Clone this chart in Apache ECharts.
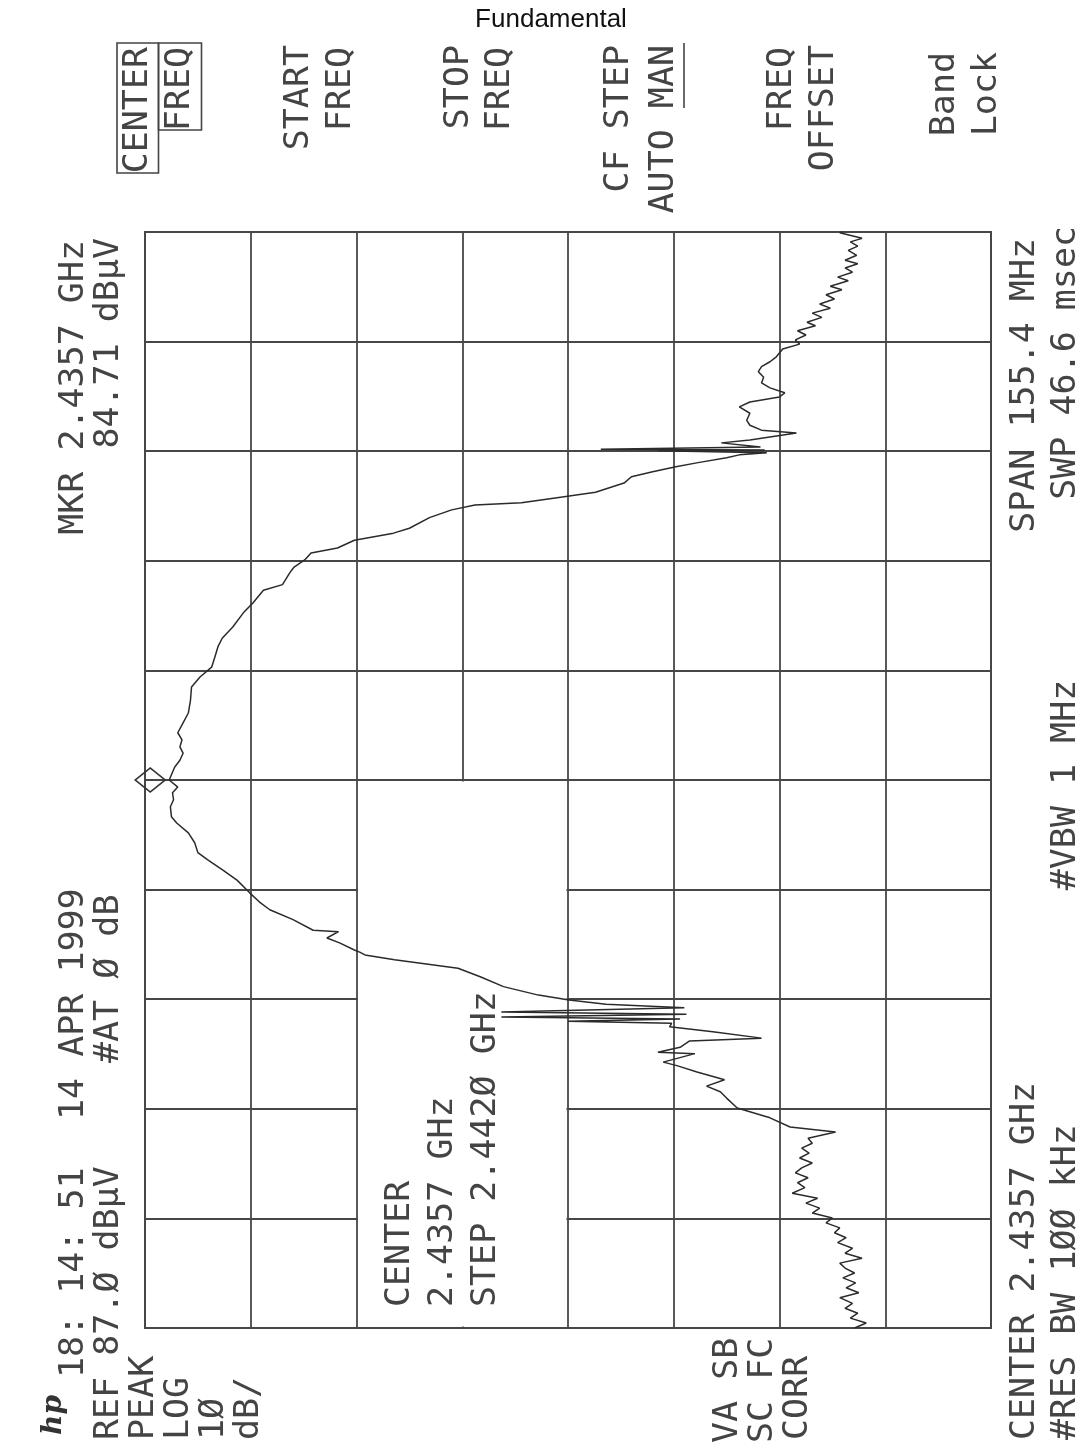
<!DOCTYPE html>
<html>
<head>
<meta charset="utf-8">
<script src="https://cdn.jsdelivr.net/npm/echarts@6/dist/echarts.min.js"></script>
<style>
html,body{margin:0;padding:0;background:#fff;}
#c{width:1090px;height:1447px;}
</style>
</head>
<body>
<div id="c"></div>
<script>
// ---------------- data ----------------
const REF_LEVEL = 87.0;      // dBµV, top of screen
const DB_PER_DIV = 10;
const AMP_DIVS = 8;
const CENTER_MHZ = 2435.7;
const SPAN_MHZ = 155.4;
const FREQ_DIVS = 10;

// trace: frequency (MHz)
const traceFreqMHz = [
  // lower noise floor
  2358.0, 2358.7, 2359.4, 2360.1, 2360.8, 2361.5, 2362.3, 2363.0, 2363.7, 2364.4,
  2365.1, 2365.8, 2366.5, 2367.2, 2367.9, 2368.6, 2369.3, 2370.1, 2370.8, 2371.5,
  2372.2, 2372.9, 2373.6, 2374.3, 2375.0, 2375.7, 2376.4, 2377.1, 2377.9, 2378.6,
  2379.3, 2380.0, 2380.7, 2381.4, 2382.1, 2382.8, 2383.5, 2384.2, 2384.9, 2385.8,
  2386.5, 2387.8,
  // lower skirt, main lobe, upper skirt
  2389.2, 2390.6, 2391.5, 2392.3, 2393.2, 2394.3, 2395.2, 2395.7, 2396.9, 2397.1,
  2397.8, 2398.7, 2399.1, 2400.0, 2400.7, 2401.2, 2401.5, 2401.8, 2402.1, 2402.5,
  2402.8, 2403.4, 2403.9, 2404.5, 2405.2, 2406.4, 2407.8, 2409.0, 2410.2, 2410.9,
  2411.3, 2411.6, 2412.6, 2413.3, 2414.2, 2414.4, 2415.9, 2417.3, 2418.3, 2419.7,
  2421.5, 2422.9, 2424.4, 2425.4, 2426.8, 2428.2, 2429.6, 2430.5, 2431.9, 2432.9,
  2433.9, 2434.7, 2435.7, 2437.5, 2438.5, 2439.5, 2440.4, 2441.4, 2442.4, 2443.8,
  2445.2, 2447.0, 2448.9, 2450.3, 2451.7, 2453.1, 2454.6, 2455.8, 2457.4, 2459.4,
  2460.8, 2462.6, 2463.4, 2465.1, 2465.9, 2466.9, 2467.9, 2468.6, 2469.7, 2470.7,
  2471.4, 2472.9, 2474.0, 2474.7, 2475.0, 2475.8, 2476.5, 2477.8, 2478.7, 2479.4,
  2480.1, 2480.7, 2481.4, 2481.8, 2482.1, 2482.4, 2482.5, 2482.6, 2482.9, 2483.5,
  2483.9, 2484.9, 2485.3, 2486.0, 2486.7, 2487.7, 2488.6, 2489.3, 2490.0, 2490.6,
  2491.3, 2492.0, 2492.8, 2493.6, 2494.3, 2495.0, 2495.7,
  // upper noise floor
  2496.8, 2497.5, 2498.1, 2498.8, 2499.4, 2500.1, 2500.6, 2501.3, 2501.9, 2502.6,
  2503.2, 2503.9, 2504.5, 2505.2, 2505.7, 2506.5, 2507.0, 2507.7, 2508.3, 2508.9,
  2509.4, 2510.1, 2510.8, 2511.4, 2512.0, 2512.5, 2513.3, 2513.4
];
// trace level (dBµV)
const traceLevel = [
  19.9, 18.8, 20.3, 19.6, 20.8, 20.1, 21.3, 19.5, 20.7, 19.8,
  21.0, 19.9, 20.8, 21.3, 19.2, 20.8, 20.1, 21.5, 20.7, 21.8,
  21.3, 22.6, 22.0, 23.9, 23.2, 24.5, 23.4, 25.8, 24.6, 25.3,
  24.3, 25.5, 24.9, 23.9, 25.1, 24.2, 24.9, 23.9, 24.3, 21.7,
  26.0, 27.9,
  31.0, 32.0, 32.6, 33.9, 32.2, 34.8, 36.7, 38.0, 35.0, 38.5,
  36.4, 35.5, 28.7, 33.3, 37.4, 37.2, 47.0, 36.4, 53.3, 35.8,
  53.3, 36.0, 43.4, 46.9, 49.8, 53.1, 55.3, 57.4, 63.4, 66.2,
  66.7, 67.2, 68.6, 69.8, 68.7, 71.1, 73.0, 75.2, 76.1, 77.1,
  78.3, 79.6, 81.1, 82.0, 82.3, 82.9, 84.0, 84.5, 84.6, 84.3,
  84.4, 83.9, 84.71, 84.2, 83.7, 83.4, 83.7, 83.5, 83.9, 83.4,
  82.9, 82.7, 82.6, 81.8, 80.7, 80.4, 80.1, 79.7, 78.7, 77.7,
  76.8, 75.8, 74.0, 73.3, 72.9, 71.9, 71.3, 68.8, 67.2, 63.5,
  62.0, 60.1, 58.0, 55.8, 51.4, 47.7, 44.4, 41.7, 41.0, 39.0,
  36.8, 34.7, 32.0, 30.8, 28.2, 38.5, 28.4, 43.9, 28.8, 32.5,
  29.8, 25.4, 28.7, 29.8, 30.1, 29.8, 30.8, 29.8, 27.0, 26.5,
  27.9, 28.7, 28.5, 29.0, 28.7, 27.9, 27.3,
  26.7, 25.1, 25.5, 24.5, 25.3, 23.6, 24.4, 23.0, 23.9, 22.2,
  23.2, 21.8, 22.6, 21.1, 22.2, 20.5, 21.5, 20.1, 20.8, 19.6,
  20.8, 19.7, 20.5, 19.6, 20.3, 19.2, 21.3, 21.1
];
const markerFreqMHz = 2435.7;
const markerLevel = 84.71;

if (traceFreqMHz.length !== traceLevel.length) {
  throw new Error('trace arrays differ: ' + traceFreqMHz.length + ' vs ' + traceLevel.length);
}

// ---------------- chart ----------------
const chart = echarts.init(document.getElementById('c'), null, {renderer: 'canvas', width: 1090, height: 1447});

const LINE_COLOR = '#474747';
const TRACE_COLOR = '#2b2b2b';
const TEXT_COLOR = '#444444';
const FONT = '33px "DejaVu Sans Mono"';

const seriesData = traceFreqMHz.map((f, i) => [
  +(traceLevel[i] - REF_LEVEL).toFixed(3),
  +(f - CENTER_MHZ).toFixed(3)
]);

const halfSpan = SPAN_MHZ / 2;
const freqStep = SPAN_MHZ / FREQ_DIVS;

const option = {
  animation: false,
  backgroundColor: '#ffffff',
  grid: {
    left: 145, top: 232, width: 846, height: 1096,
    show: true, borderColor: LINE_COLOR, borderWidth: 2, backgroundColor: 'transparent'
  },
  xAxis: {
    type: 'value', inverse: true,
    min: -AMP_DIVS * DB_PER_DIV, max: 0, interval: DB_PER_DIV,
    axisLine: {show: false}, axisTick: {show: false}, axisLabel: {show: false},
    splitLine: {show: true, lineStyle: {color: LINE_COLOR, width: 1.8}},
    z: 0
  },
  yAxis: {
    type: 'value',
    min: -halfSpan, max: halfSpan, interval: freqStep,
    axisLine: {show: false}, axisTick: {show: false}, axisLabel: {show: false},
    splitLine: {show: true, lineStyle: {color: LINE_COLOR, width: 1.8}},
    z: 0
  },
  series: [{
    type: 'line',
    data: seriesData,
    symbol: 'none',
    showSymbol: false,
    lineStyle: {color: TRACE_COLOR, width: 1.5},
    z: 2,
    markPoint: {
      silent: true,
      data: [{
        coord: [markerLevel - REF_LEVEL, markerFreqMHz - CENTER_MHZ],
        symbol: 'diamond',
        symbolSize: [30, 24],
        symbolOffset: [-19, 0],
        itemStyle: {color: 'rgba(255,255,255,0)', borderColor: '#333', borderWidth: 1.6},
        label: {show: false}
      }]
    }
  }]
};
chart.setOption(option);

// ---------- annotation layer ----------
function vtext(str, cx, y, anchor) {
  const al = anchor === 'start' ? 'left' : (anchor === 'end' ? 'right' : 'center');
  return {
    type: 'text', x: cx, y: y, rotation: Math.PI / 2, scaleX: 1.06, z: 10,
    style: {
      text: str, x: 0, y: 0, font: FONT, fill: TEXT_COLOR,
      stroke: '#ffffff', lineWidth: 1.1,
      align: al, textAlign: al, verticalAlign: 'middle', textVerticalAlign: 'middle'
    }
  };
}

// blank part of the graticule (where the CENTER / STEP annotation was written)
const pA = chart.convertToPixel({gridIndex: 0}, [-20, -halfSpan]);
const pB = chart.convertToPixel({gridIndex: 0}, [-40, 0]);
const bx0 = Math.min(pA[0], pB[0]) + 1.5, bx1 = Math.max(pA[0], pB[0]) - 1.5;
const by0 = Math.min(pA[1], pB[1]) + 1.5, by1 = Math.max(pA[1], pB[1]) - 1.5;

const graphics = [
  {type: 'rect', z: 1, shape: {x: bx0, y: by0, width: bx1 - bx0, height: by1 - by0},
   style: {fill: '#ffffff', stroke: null}},

  // title
  {type: 'text', x: 551, y: 20, z: 10,
   style: {text: 'Fundamental', x: 0, y: 0, font: '26px "Liberation Sans"', fill: '#111',
           align: 'center', textAlign: 'center', verticalAlign: 'middle', textVerticalAlign: 'middle'}},

  // softkey labels
  vtext('CENTER', 138, 47, 'end'),
  vtext('FREQ', 180, 47, 'end'),
  {type: 'rect', z: 10, shape: {x: 117, y: 43, width: 41.5, height: 130}, style: {fill: 'none', stroke: '#444', lineWidth: 1.6}},
  {type: 'rect', z: 10, shape: {x: 158.5, y: 43, width: 43, height: 87}, style: {fill: 'none', stroke: '#444', lineWidth: 1.6}},
  vtext('START', 299, 45, 'end'),
  vtext('FREQ', 341, 47, 'end'),
  vtext('STOP', 459, 45, 'end'),
  vtext('FREQ', 500, 47, 'end'),
  vtext('CF STEP', 619, 45, 'end'),
  vtext('AUTO MAN', 664, 45, 'end'),
  {type: 'line', z: 10, shape: {x1: 684, y1: 43, x2: 684, y2: 108}, style: {stroke: '#444', lineWidth: 1.6}},
  vtext('FREQ', 782, 47, 'end'),
  vtext('OFFSET', 824, 45, 'end'),
  vtext('Band', 945, 52, 'end'),
  vtext('Lock', 987, 52, 'end'),

  // header rows (left)
  {type: 'text', x: 54, y: 1415, rotation: Math.PI / 2, z: 10,
   style: {text: 'hp', x: 0, y: 0, font: 'italic bold 28px "DejaVu Serif"', fill: '#333',
           align: 'center', textAlign: 'center', verticalAlign: 'middle', textVerticalAlign: 'middle'}},
  vtext('18: 14: 51', 74, 1378, 'start'),
  vtext('14 APR 1999', 74, 1120, 'start'),
  vtext('MKR 2.4357 GHz', 74, 240, 'end'),
  vtext('REF 87.Ø dBµV', 109, 1440, 'start'),
  vtext('#AT Ø dB', 109, 1063, 'start'),
  vtext('84.71 dBµV', 109, 238, 'end'),
  vtext('PEAK', 144, 1440, 'start'),
  vtext('LOG', 179, 1440, 'start'),
  vtext('1Ø', 214, 1440, 'start'),
  vtext('dB/', 249, 1440, 'start'),
  vtext('VA SB', 728, 1443, 'start'),
  vtext('SC FC', 763, 1443, 'start'),
  vtext('CORR', 798, 1440, 'start'),

  // in-graticule annotation
  vtext('CENTER', 400, 1307, 'start'),
  vtext('2.4357 GHz', 443, 1307, 'start'),
  vtext('STEP 2.442Ø GHz', 486, 1307, 'start'),

  // footer rows (right)
  vtext('CENTER 2.4357 GHz', 1025, 1440, 'start'),
  vtext('#RES BW 1ØØ kHz', 1066, 1440, 'start'),
  vtext('#VBW 1 MHz', 1066, 785, 'center'),
  vtext('SPAN 155.4 MHz', 1025, 238, 'end'),
  vtext('SWP 46.6 msec', 1066, 226, 'end')
];

chart.setOption({graphic: graphics});
</script>
</body>
</html>
